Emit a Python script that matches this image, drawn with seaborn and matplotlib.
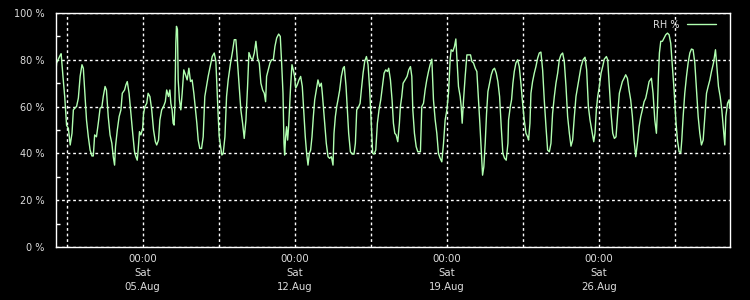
import numpy as np
import pandas as pd
import matplotlib
matplotlib.use("Agg")
import matplotlib.pyplot as plt
import matplotlib.dates as mdates
from matplotlib.ticker import FixedLocator
import seaborn as sns

# ---- data: hours since 2023-08-01 00:00 and relative humidity (%) ----
start = "2023-08-01 00:00"
hours = [
    0, 1, 5, 6, 8, 10, 12, 14, 16, 18, 19.5, 21, 23, 25, 27, 29, 30.5, 32, 34, 36,
    38, 40, 41.5, 43, 45, 47, 49, 51, 52.5, 54.5, 56, 58, 60, 62, 63.5, 65, 66, 68, 70, 72,
    73.5, 76, 77.5, 79, 81, 83, 85, 87, 88.5, 90, 91, 92.5, 94, 96, 97, 98.5, 100.5, 102, 104, 106,
    108, 110, 111.5, 113.5, 115, 117, 119, 121, 122.5, 124.5,
    126.0, 127.1, 128.5, 129.6, 130.7, 131.5, 132.6, 133.3, 134.4, 135.2, 136.6, 138.1, 139.6, 141.4,
    143.3, 145.1, 147.0, 148.8, 150.6, 152.5, 154.3, 155.8, 157.3, 159.1, 161.0, 162.8, 164.6, 166.5,
    168.3, 170.5, 172.8, 175.0, 176.8, 178.3, 179.4, 180.5, 182.0, 183.4, 184.9, 186.8, 188.6, 190.4,
    193.0, 195.2, 197.1, 198.9, 200.7, 202.6, 204.4, 206.3, 208.1, 210.0, 211.8, 213.3, 215.5, 217.3,
    219.2, 221.0, 222.9, 224.7, 226.5, 228.4, 230.2, 231.7, 232.8, 234.6, 236.5, 238.3, 240.2, 242.0,
    243.9, 246.1, 247.9, 249.4,
    250.9, 252.0, 252.7, 253.8, 254.9, 256.0, 257.1, 258.2, 259.3, 260.8, 262.3, 263.7, 264.9, 266.7,
    268.5, 270.4, 272.2, 273.7, 275.5, 277.0, 278.5, 280.0, 281.4, 282.9, 284.4, 285.9, 287.7, 289.5,
    291.4, 293.2, 294.3, 295.8, 297.3, 298.7, 300.6, 302.4, 304.3, 306.1, 307.2, 308.7, 310.2, 311.6,
    313.5, 315.3, 317.2, 318.6, 320.5, 322.0, 323.4, 325.3, 327.5, 329.3, 330.8, 332.3, 334.5, 336.0,
    337.4, 339.3, 341.1, 343.0, 344.8, 346.6, 348.5, 349.9, 351.4, 353.3, 355.1, 356.9, 358.8, 360.6,
    362.5, 364.3, 366.2, 367.6, 369.5, 371.3, 372.8, 374.3,
    375.8, 377.6, 379.4, 380.5, 382.0, 383.5, 385.7, 387.9, 389.7, 391.6, 393.1, 394.2, 396.0, 397.9,
    399.7, 402.6, 404.1, 406.0, 407.8, 409.6, 411.5, 413.3, 415.2, 417.0, 418.9, 420.7, 422.5, 424.4,
    426.2, 428.1, 429.9, 431.8, 433.6, 435.4, 436.5, 438.4, 440.2, 441.7, 443.2, 444.6, 446.5, 447.6,
    448.7, 450.2, 452.0, 453.9, 455.7, 457.9, 459.4, 461.2, 463.1, 464.9, 466.7, 468.2, 469.7, 471.2,
    472.6, 474.1, 475.6, 477.1, 478.9, 480.8, 482.6, 484.4, 486.3, 488.1, 490.0, 491.8, 493.6, 495.5,
    497.3, 499.2,
    499.9, 501.8, 503.2, 504.7, 506.2, 508.0, 509.9, 511.7, 513.5, 515.4, 517.2, 519.1, 520.9, 522.0,
    523.5, 524.6, 526.4, 528.3, 530.1, 532.0, 533.8, 535.6, 537.5, 539.3, 541.2, 543.0, 544.9, 546.7,
    548.5, 550.4, 552.2, 554.1, 555.9, 557.7, 559.6, 561.4, 563.3, 565.1, 567.0, 568.8, 570.6, 572.5,
    574.3, 576.2, 578.0, 579.9, 582.1, 584.3, 586.1, 588.0, 589.8, 591.7, 593.9, 595.3, 596.8, 598.3,
    600.1, 602.0, 603.8, 605.6, 607.9, 609.3, 611.2, 613.0, 614.9, 616.7, 618.5, 620.4, 622.2, 624.1,
    625.5, 627.4, 629.2, 631.1, 632.9, 634.7, 636.6, 638.4, 640.3, 642.1, 644.0, 645.8, 647.6, 649.5,
    651.3, 653.2, 655.0, 657.6, 659.4, 661.3, 663.1, 664.2, 665.3, 666.4, 667.9, 669.7, 671.6, 673.4,
    675.3, 677.1, 678.9, 680.8, 682.6, 684.5, 686.3, 688.2, 690.0, 691.1, 692.6, 694.4, 696.3, 698.1,
    700.0, 701.8, 703.6, 705.5, 707.3, 709.2, 711.0, 712.8, 714.7, 716.5, 718.4, 720.2, 722.1, 723.9,
    726.1, 728.3, 729.8, 731.6, 733.5, 735.3, 737.2, 738.6, 739.7, 741.6, 743.4, 744.0,
]
rh = [
    73.6, 78.6, 82, 82.6, 73, 64, 52, 50.7, 43.6, 48.6, 58.6, 59.3, 60, 63.6, 73, 77.9, 76.4, 67, 54.3, 47.1,
    41.4, 38.9, 38.9, 47.9, 47.1, 52.9, 59.3, 60, 64.3, 68.6, 67.1, 55.7, 47.9, 44.3, 38.6, 35, 42.9, 50, 55.7, 58.6,
    65.7, 67.1, 69.3, 70.7, 65.7, 57.1, 48.6, 40.7, 38.6, 37.1, 41.4, 49.3, 47.9, 50.7, 57.1, 60, 61.4, 65.7, 64.3, 58.6,
    50, 45, 43.6, 45.7, 54.3, 58.6, 60, 62.1, 67.1, 64.3,
    67.1, 61.4, 58.6, 52.9, 52.1, 60, 87.1, 94.3, 92.9, 71.4, 62.9, 58.6, 65.7, 75.7,
    73.6, 71.4, 76.4, 70.7, 71.4, 65.7, 58.6, 52.9, 45.7, 42.1, 42.1, 47.1, 64.3, 68.6,
    72.9, 77.1, 81.4, 82.9, 79.3, 65.7, 55.7, 47.1, 42.9, 39.3, 40, 47.1, 64.3, 71.4,
    78.6, 83.6, 88.6, 88.6, 78.6, 67.9, 58.6, 52.9, 46.4, 54.3, 68.6, 83.1, 80.7, 80,
    82.9, 87.9, 80.7, 78.6, 70, 67.1, 65.7, 62.1, 72.9, 75.7, 78.6, 80, 80, 85.7,
    89.3, 91, 90, 78.6,
    65.7, 44.3, 39.3, 47.1, 51.4, 45.7, 51.4, 60, 68.6, 77.9, 75.7, 72.9, 67.9, 69.3,
    71.4, 72.9, 68.6, 58.6, 47.1, 40, 35, 40, 41.4, 47.1, 55.7, 62.9, 67.1, 71.4,
    68.6, 70, 65.7, 58.6, 51.4, 44.3, 38.6, 37.9, 38.6, 35, 48.6, 55.7, 60, 62.9,
    67.1, 72.9, 76.4, 77.1, 68.6, 58.6, 48.6, 40.7, 39.7, 39.7, 44.3, 58.6, 60, 61.4,
    67.1, 74.3, 79.3, 81.4, 77.9, 67.1, 51.4, 40, 39.7, 41.4, 52.9, 58.6, 62.9, 68.6,
    74.3, 75.7, 75, 76.4, 71.4, 62.9, 52.9, 48.6,
    47.9, 45, 52.9, 60, 64.3, 70, 71.4, 72.9, 75.7, 77.1, 72.9, 58.6, 48.6, 42.9,
    40.7, 40.7, 60, 61.4, 67.1, 71.4, 75, 77.9, 80.3, 62.9, 54.3, 48.6, 40, 37.9,
    36.4, 44.3, 54.3, 58.6, 65.7, 80, 84.3, 83.6, 85.7, 88.9, 78.6, 68.6, 64.3, 60,
    52.9, 62.9, 72.9, 82.1, 82.1, 82.1, 79.3, 78.6, 76.4, 75, 62.9, 52.9, 41.4, 30.7,
    34.3, 44.3, 57.1, 66.4, 70, 73.6, 75.7, 76.4, 74.3, 70.7, 64.3, 51.4, 40, 37.9,
    37.1, 44.3,
    54.3, 60, 62.9, 70, 75, 78.6, 80, 77.1, 70, 61.4, 54.3, 48.6, 47.1, 45.7,
    52.9, 65.7, 70.7, 74.3, 77.1, 80.7, 82.9, 83.3, 75.7, 62.9, 51.4, 41.4, 40.7, 44.3,
    57.1, 64.3, 70, 74.3, 80, 82.1, 82.9, 79.3, 68.6, 55.7, 48.6, 43.1, 45.7, 55.7,
    64.3, 68.6, 72.9, 77.1, 80, 81.1, 75.7, 60, 54.3, 50, 45, 48.6, 58.6, 64.3,
    68.6, 74.3, 77.1, 80.3, 81.4, 80, 68.6, 57.1, 48.6, 46.4, 47.1, 57.1, 65.7, 68.6,
    70.7, 72.1, 73.6, 72.1, 67.1, 62.9, 55.7, 45.7, 38.6, 44.3, 51.4, 55.7, 58.6, 62.1,
    63.6, 67.1, 70.7, 72.1, 65.7, 54.3, 48.6, 58.6, 72.9, 82.9, 87.9, 87.9, 89.3, 90.7,
    91.4, 90.7, 87.1, 77.1, 67.1, 54.3, 45.7, 40.7, 40.3, 45.7, 55.7, 65.7, 72.9, 78.6,
    82.9, 84.6, 84.3, 78.6, 67.1, 55.7, 48.6, 43.6, 45.7, 55.7, 65.7, 68.6, 71.4, 75,
    78.6, 84.3, 77.1, 68.6, 64.3, 58.6, 50, 43.6, 55.7, 61.4, 62.9, 59.3,
]
y_ticks = [0, 20, 40, 60, 80, 100]
x_label_days = ["2023-08-05", "2023-08-12", "2023-08-19", "2023-08-26"]
end = "2023-09-01 00:00"
series_name = "RH %"

df = pd.DataFrame({
    "time": pd.Timestamp(start) + pd.to_timedelta(hours, unit="h"),
    "rh": rh,
})

sns.set_theme(style="dark")
plt.rcParams["font.family"] = ["DejaVu Sans"]

fig = plt.figure(figsize=(7.5, 3), dpi=100, facecolor="black")
ax = fig.add_axes([55.7 / 750, 1 - 247 / 300, 674 / 750, 234 / 300])
ax.set_facecolor("black")

sns.lineplot(data=df, x="time", y="rh", ax=ax, color="#b0ffb0", linewidth=1.0,
             label=series_name, estimator=None, sort=False)

ax.set_xlim(pd.Timestamp(start), pd.Timestamp(end))
ax.set_ylim(0, 100)
ax.set_xlabel("")
ax.set_ylabel("")

# grid positions every 3.5 days, labelled only at week starts
grid_times = pd.date_range(pd.Timestamp(start) + pd.Timedelta(hours=12), pd.Timestamp(end), freq="84h")
label_set = set(pd.to_datetime(x_label_days))
ax.set_xticks(mdates.date2num(grid_times))
ax.set_xticklabels([t.strftime("%H:%M\n%a\n%d.%b") if t in label_set else "" for t in grid_times])

ax.set_yticks(y_ticks)
ax.set_yticklabels([f"{v} %" for v in y_ticks])
ax.yaxis.set_minor_locator(FixedLocator([10, 30, 50, 70, 90]))

ax.tick_params(axis="both", which="major", colors="#dddddd", labelsize=7, length=0)
ax.tick_params(axis="x", which="major", pad=5, labelsize=7.3)
ax.tick_params(axis="y", which="major", pad=8)
ax.tick_params(axis="y", which="minor", direction="in", length=3, width=1, color="white", left=True)
for lab in ax.get_xticklabels():
    lab.set_linespacing(1.5)

ax.grid(True, which="major", axis="both", color="white", linestyle=(0, (2, 2)), linewidth=1)
for s in ax.spines.values():
    s.set_color("white")
    s.set_linewidth(1)
    s.set_visible(True)

leg = ax.legend(loc="upper right", frameon=False, markerfirst=False, fontsize=7,
                handlelength=3.0, borderaxespad=0.3, handletextpad=0.8,
                bbox_to_anchor=(0.99, 1.0))
for t in leg.get_texts():
    t.set_color("#dddddd")

fig.savefig("out.png", dpi=100, facecolor="black")
